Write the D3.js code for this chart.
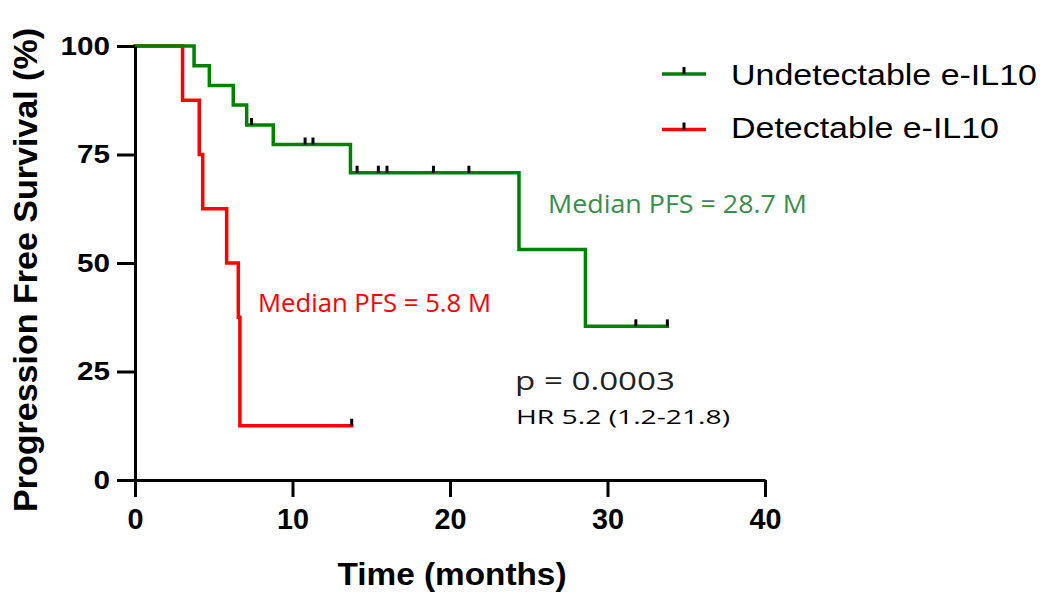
<!DOCTYPE html>
<html>
<head>
<meta charset="utf-8">
<script src="https://cdn.jsdelivr.net/npm/d3@7"></script>
<style>
  html, body { margin: 0; padding: 0; background: #fff; }
  svg { display: block; }
</style>
</head>
<body>
<svg id="chart" width="1048" height="599"></svg>
<script>
// ---- data ----
const undetectableTimes = [0, 3.75, 4.72, 6.24, 7.09, 8.78, 13.68, 24.38, 28.6, 33.8];
const undetectableSurv  = [100, 95.45, 90.9, 86.4, 81.8, 77.3, 70.8, 53.1, 35.4, 35.4];
const undetectableCensor = [7.4, 10.8, 11.3, 14.1, 15.45, 16.0, 18.95, 21.2, 31.8, 33.8];

const detectableTimes = [0, 3.02, 4.08, 4.3, 5.82, 6.56, 6.66, 13.76];
const detectableSurv  = [100, 87.5, 75, 62.5, 50, 37.5, 12.5, 12.5];
const detectableCensor = [13.76];

const xTicks = [0, 10, 20, 30, 40];
const yTicks = [0, 25, 50, 75, 100];
const legendLabels = ["Undetectable e-IL10", "Detectable e-IL10"];
const seriesColors = ["#008000", "#ff0000"];

// ---- chart ----
const svg = d3.select("#chart");
const x = d3.scaleLinear().domain([0, 40]).range([135, 765]);
const y = d3.scaleLinear().domain([0, 100]).range([480, 46]);

function stepValue(times, surv, t) {
  let v = surv[0];
  for (let i = 0; i < times.length; i++) if (times[i] <= t) v = surv[i];
  return v;
}

const series = [
  {times: undetectableTimes, surv: undetectableSurv, cens: undetectableCensor, color: seriesColors[0]},
  {times: detectableTimes, surv: detectableSurv, cens: detectableCensor, color: seriesColors[1]}
];

const line = d3.line().x(d => x(d[0])).y(d => y(d[1])).curve(d3.curveStepAfter);

// draw red first so green sits on top at the 100% plateau
[series[1], series[0]].forEach(s => {
  const pts = s.times.map((t, i) => [t, s.surv[i]]);
  svg.append("path")
    .attr("d", line(pts))
    .attr("fill", "none")
    .attr("stroke", s.color)
    .attr("stroke-width", 3.5)
    .attr("stroke-linejoin", "miter")
    .attr("stroke-linecap", "square");
  svg.append("g").selectAll("rect")
    .data(s.cens)
    .join("rect")
    .attr("x", d => x(d) - 1.5)
    .attr("y", d => y(stepValue(s.times, s.surv, d)) - 7)
    .attr("width", 3)
    .attr("height", 7)
    .attr("fill", "#000");
});

// axes
const xAxis = svg.append("g")
  .attr("transform", "translate(0,480)")
  .call(d3.axisBottom(x).tickValues(xTicks).tickSize(17).tickSizeOuter(0).tickPadding(11));
const yAxis = svg.append("g")
  .attr("transform", "translate(135,0)")
  .call(d3.axisLeft(y).tickValues(yTicks).tickSize(18).tickSizeOuter(0).tickPadding(7));

[xAxis, yAxis].forEach(g => {
  g.select(".domain").attr("stroke", "#000").attr("stroke-width", 3);
  g.selectAll(".tick line").attr("stroke", "#000").attr("stroke-width", 3);
  g.selectAll(".tick text")
    .attr("fill", "#000")
    .attr("font-family", "'Liberation Sans', Arial, sans-serif")
    .attr("font-weight", "bold");
});
xAxis.selectAll(".tick text")
  .attr("font-size", 29)
  .attr("textLength", d => String(d).length * 16)
  .attr("lengthAdjust", "spacingAndGlyphs");
yAxis.selectAll(".tick text")
  .attr("font-size", 26)
  .attr("textLength", d => String(d).length * 16.5)
  .attr("lengthAdjust", "spacingAndGlyphs");

// axis titles
svg.append("text")
  .attr("x", 452).attr("y", 585)
  .attr("text-anchor", "middle")
  .attr("font-family", "'Liberation Sans', Arial, sans-serif")
  .attr("font-weight", "bold").attr("font-size", 32)
  .attr("textLength", 229).attr("lengthAdjust", "spacingAndGlyphs")
  .text("Time (months)");

svg.append("text")
  .attr("transform", "translate(37,270) rotate(-90)")
  .attr("text-anchor", "middle")
  .attr("font-family", "'Liberation Sans', Arial, sans-serif")
  .attr("font-weight", "bold").attr("font-size", 33)
  .attr("textLength", 484).attr("lengthAdjust", "spacingAndGlyphs")
  .text("Progression Free Survival (%)");

// legend
const legendY = [74, 129.5];
const legendBase = [85, 137.5];
const legendW = [306, 268];
legendLabels.forEach((lab, i) => {
  svg.append("line")
    .attr("x1", 662).attr("x2", 706)
    .attr("y1", legendY[i]).attr("y2", legendY[i])
    .attr("stroke", seriesColors[i]).attr("stroke-width", 3.5);
  svg.append("rect")
    .attr("x", 682.5).attr("y", legendY[i] - 7)
    .attr("width", 3).attr("height", 7).attr("fill", "#000");
  svg.append("text")
    .attr("x", 731).attr("y", legendBase[i])
    .attr("font-family", "'Liberation Sans', Arial, sans-serif")
    .attr("font-size", 30).attr("fill", "#000")
    .attr("textLength", legendW[i]).attr("lengthAdjust", "spacingAndGlyphs")
    .text(lab);
});

// annotations
const notes = [
  {t: "Median PFS = 28.7 M", x: 548, y: 213, size: 25, w: 259, c: "#3a8c4c"},
  {t: "Median PFS = 5.8 M", x: 258, y: 312, size: 25, w: 233, c: "#ff0000"},
  {t: "p = 0.0003", x: 515, y: 390, size: 26, w: 160, c: "#222"},
  {t: "HR 5.2 (1.2-21.8)", x: 516, y: 424, size: 20, w: 214, c: "#000"}
];
notes.forEach(n => {
  svg.append("text")
    .attr("x", n.x).attr("y", n.y)
    .attr("font-family", "'Open Sans', 'Liberation Sans', sans-serif")
    .attr("font-size", n.size).attr("fill", n.c)
    .attr("textLength", n.w).attr("lengthAdjust", "spacingAndGlyphs")
    .text(n.t);
});
</script>
</body>
</html>
